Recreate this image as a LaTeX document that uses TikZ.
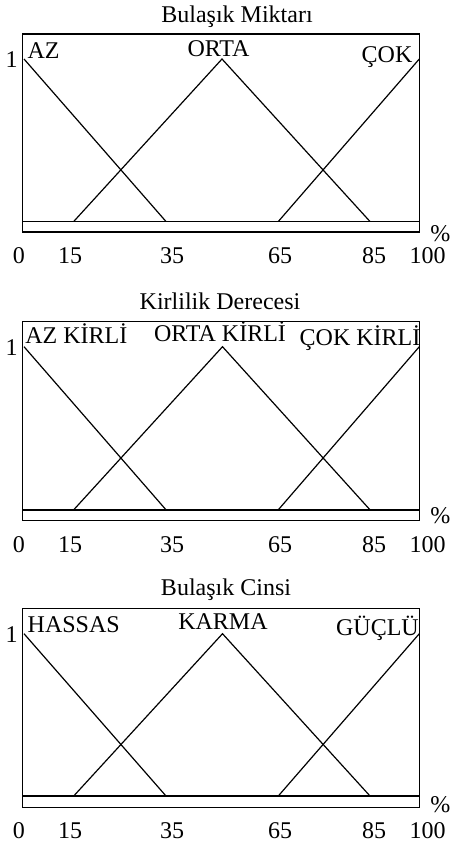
\documentclass[tikz,border=0pt]{standalone}
\usepackage{fontspec}
\setmainfont{Liberation Serif}
\begin{document}
\begin{tikzpicture}[x=1pt,y=-1pt,
  txt/.style={inner sep=0pt,anchor=base,font=\fontsize{24}{28}\selectfont},
  frame/.style={line width=1.5pt},
  baseln/.style={line width=1.9pt},
  tri/.style={line width=1.2pt,line join=miter}]
\useasboundingbox (0,0) rectangle (451,846);
% ---------- Panel 1 ----------
\node[txt] (t1) at (237,22.7) {Bulaşık Miktarı};
\draw[frame] (22.7,34) rectangle (419.3,232);
\draw[baseln] (22.7,221.5) -- (419.3,221.5);
\draw[tri] (24,59) -- (166,221.5);
\draw[tri] (73.7,221.5) -- (222,59) -- (370,221.5);
\draw[tri] (278.3,221.5) -- (419.3,59);
\node[txt] (a1) at (43.5,58.3) {AZ};
\node[txt] (b1) at (218.5,56.5) {ORTA};
\node[txt] (c1) at (387,62) {ÇOK};
\node[txt] (o1) at (11.5,67.5) {1};
\node[txt] (p1) at (440.3,241) {\%};
\node[txt] (n1a) at (18.8,263.5) {0};
\node[txt] (n1b) at (70,263.5) {15};
\node[txt] (n1c) at (172,263.5) {35};
\node[txt] (n1d) at (280,263.5) {65};
\node[txt] (n1e) at (374,263.5) {85};
\node[txt] (n1f) at (427.5,263.5) {100};
% ---------- Panel 2 ----------
\node[txt] (t2) at (220,309.3) {Kirlilik Derecesi};
\draw[frame] (22.7,321.3) rectangle (419.3,520.7);
\draw[baseln] (22.7,509.8) -- (419.3,509.8);
\draw[tri] (24,346.7) -- (166,509.8);
\draw[tri] (73.7,509.8) -- (222.5,346.7) -- (370,509.8);
\draw[tri] (278.3,509.8) -- (419.3,346.7);
\node[txt] (a2) at (76.3,343.3) {AZ KİRLİ};
\node[txt] (b2) at (220,341.7) {ORTA KİRLİ};
\node[txt] (c2) at (360,345.7) {ÇOK KİRLİ};
\node[txt] (o2) at (11.5,355) {1};
\node[txt] (p2) at (440.3,523.3) {\%};
\node[txt] (n2a) at (18.8,552.2) {0};
\node[txt] (n2b) at (70,552.2) {15};
\node[txt] (n2c) at (172,552.2) {35};
\node[txt] (n2d) at (280,552.2) {65};
\node[txt] (n2e) at (374,552.2) {85};
\node[txt] (n2f) at (427.5,552.2) {100};
% ---------- Panel 3 ----------
\node[txt] (t3) at (226,595.3) {Bulaşık Cinsi};
\draw[frame] (22.7,608.7) rectangle (419.3,807.3);
\draw[baseln] (22.7,796) -- (419.3,796);
\draw[tri] (24,633.7) -- (166,796);
\draw[tri] (73.7,796) -- (222.5,633.7) -- (370,796);
\draw[tri] (278.3,796) -- (419.3,633.7);
\node[txt] (a3) at (73.7,632.7) {HASSAS};
\node[txt] (b3) at (223,629.3) {KARMA};
\node[txt] (c3) at (377.5,635.3) {GÜÇLÜ};
\node[txt] (o3) at (11.5,642) {1};
\node[txt] (p3) at (440.3,812) {\%};
\node[txt] (n3a) at (18.8,838.8) {0};
\node[txt] (n3b) at (70,838.8) {15};
\node[txt] (n3c) at (172,838.8) {35};
\node[txt] (n3d) at (280,838.8) {65};
\node[txt] (n3e) at (374,838.8) {85};
\node[txt] (n3f) at (427.5,838.8) {100};
\end{tikzpicture}
\end{document}
